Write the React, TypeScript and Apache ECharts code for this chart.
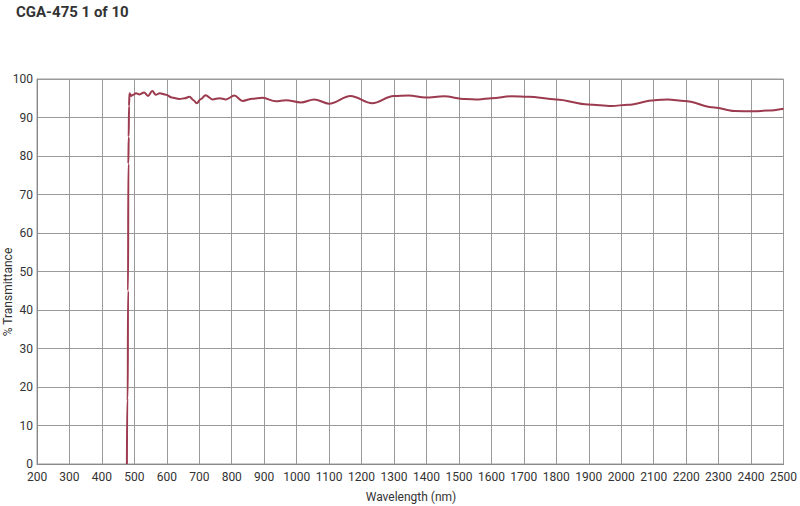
import React, { useEffect, useRef } from 'react'
import * as echarts from 'echarts'

const wavelengths = [
  477, 478, 479.5, 480.5, 481.5, 482.5, 483.5, 485, 490, 496, 505, 516, 530, 542, 555, 566, 578, 598, 615,
  639, 655, 670, 682, 692, 705, 719, 741, 762, 782, 808, 833, 864, 895, 936, 967, 1013, 1054,
  1100, 1166, 1233, 1299, 1345, 1397, 1453, 1519, 1560, 1601, 1662, 1714, 1800, 1898, 1970,
  2021, 2103, 2144, 2195, 2287, 2348, 2410, 2451, 2500
]
const transmittance = [
  0, 16.5, 17, 45, 78, 85, 93, 96.3, 95.6, 95.9, 96.3, 96, 96.5, 95.6, 96.9, 95.9, 96.3, 95.9, 95.2,
  94.8, 95, 95.4, 94.5, 93.7, 94.8, 95.8, 94.7, 95, 94.7, 95.7, 94.3, 94.9, 95.1, 94.2, 94.5, 93.9, 94.7,
  93.6, 95.6, 93.7, 95.6, 95.7, 95.2, 95.5, 94.8, 94.7, 95, 95.5, 95.4, 94.7, 93.4, 93,
  93.3, 94.5, 94.7, 94.3, 92.6, 91.7, 91.6, 91.8, 92.3
]
const yTicks = [0, 10, 20, 30, 40, 50, 60, 70, 80, 90, 100]

const font = "Roboto, 'Liberation Sans', sans-serif"

export default function App() {
  const ref = useRef<HTMLDivElement>(null)

  useEffect(() => {
    document.body.style.margin = '0'
    if (!ref.current) return
    const chart = echarts.init(ref.current, null, { renderer: 'svg' })
    const data = wavelengths.map((w, i) => [w, transmittance[i]])

    chart.setOption({
      animation: false,
      grid: { left: 37, right: 14, top: 79, bottom: 42, show: true, borderColor: '#9a9a9a', borderWidth: 1 },
      graphic: [
        {
          type: 'text', left: 16, top: 4,
          style: { text: 'CGA-475 1 of 10', font: `bold 15px ${font}`, fill: '#333' }
        },
        {
          type: 'text', x: 2, y: 292, rotation: Math.PI / 2, originX: 0, originY: 0,
          style: { text: '% Transmittance', font: `12px ${font}`, fill: '#333', align: 'center', verticalAlign: 'top' }
        },
        {
          type: 'text', x: 411, y: 497,
          style: { text: 'Wavelength (nm)', font: `12px ${font}`, fill: '#333', align: 'center', verticalAlign: 'middle' }
        }
      ],
      xAxis: {
        type: 'value', min: 200, max: 2500, interval: 100,
        axisLine: { lineStyle: { color: '#888' } },
        axisTick: { show: false },
        axisLabel: {
          color: '#333', fontFamily: font, fontSize: 12, margin: 7, lineHeight: 12,
          showMinLabel: true, showMaxLabel: true, hideOverlap: false,
          formatter: (v: number) => String(v)
        },
        splitLine: { lineStyle: { color: '#9a9a9a', width: 1 } }
      },
      yAxis: {
        type: 'value', min: yTicks[0], max: yTicks[yTicks.length - 1], interval: 10,
        axisLine: { show: true, lineStyle: { color: '#888' } },
        axisTick: { show: false },
        axisLabel: { color: '#333', fontFamily: font, fontSize: 12, margin: 4, lineHeight: 10 },
        splitLine: { lineStyle: { color: '#9a9a9a', width: 1 } }
      },
      series: [
        {
          type: 'line', data, showSymbol: false, smooth: 0.35, smoothMonotone: 'x',
          lineStyle: { color: '#9c3a4e', width: 2 }
        }
      ]
    })
    return () => chart.dispose()
  }, [])

  return <div ref={ref} style={{ position: 'absolute', left: 0, top: 0, width: 800, height: 506 }} />
}
